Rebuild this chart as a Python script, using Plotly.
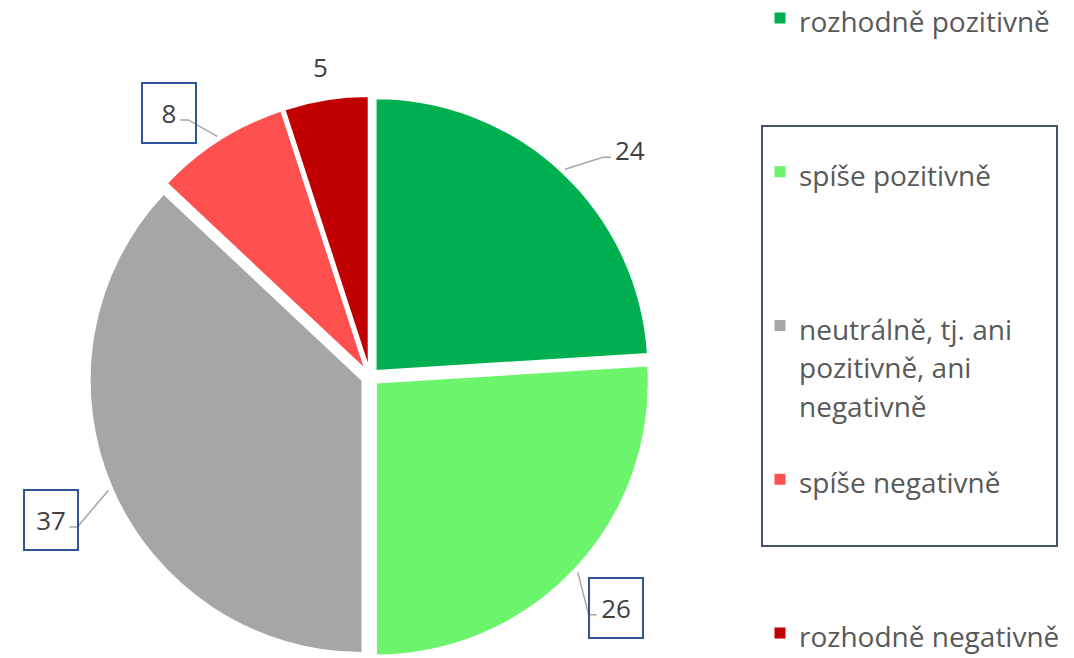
import numpy as np
import textwrap
import plotly.graph_objects as go

# ---- data ----
categories = ["rozhodně pozitivně", "spíše pozitivně",
              "neutrálně, tj. ani pozitivně, ani negativně",
              "spíše negativně", "rozhodně negativně"]
values = [24, 26, 37, 8, 5]
colors = ["#00B050", "#6CF56C", "#A6A6A6", "#FF5050", "#C00000"]

# ---- styling / layout ----
OFF = 8                      # default page body margin of the browser
W, H = 1074 - OFF, 658 - OFF
PULL = 0.03
boxed = [False, True, True, True, False]
leader = [True, True, True, True, False]
label_angle_tweak = [5.7, 0.0, -0.7, -4.9, 0.0]      # degrees
label_dist = [345, 337, 350, 332, 314]                # px from centre
label_font = dict(family="Open Sans, sans-serif", size=26, color="#404040")
legend_font = dict(family="Open Sans, sans-serif", size=28, color="#595959")

# pie placement in page pixels
cx, cy, R_total = 370, 377, 281
r_pie = R_total / (1 + PULL)


def px2paper(x, y):
    return (x - OFF) / W, 1 - (y - OFF) / H


fig = go.Figure(go.Pie(
    labels=categories, values=values, sort=False, direction="clockwise",
    rotation=0, pull=[PULL] * len(values),
    marker=dict(colors=colors, line=dict(color="white", width=2)),
    textinfo="none", hoverinfo="label+value", showlegend=False,
    domain=dict(x=[(cx - OFF - R_total) / W, (cx - OFF + R_total) / W],
                y=[max(0, (H - (cy - OFF) - R_total) / H),
                   (H - (cy - OFF) + R_total) / H]),
))

annotations = []
shapes = []
total = sum(values)
cum = np.cumsum([0] + values[:-1])
for i, v in enumerate(values):
    mid = (cum[i] + v / 2) / total * 2 * np.pi
    dx, dy = np.sin(mid), -np.cos(mid)
    la = mid + np.deg2rad(label_angle_tweak[i])
    lx, ly = cx + np.sin(la) * label_dist[i], cy - np.cos(la) * label_dist[i]
    ax_, ay_ = px2paper(lx, ly)
    ann = dict(x=ax_, y=ay_, xref="paper", yref="paper", text=str(v),
               font=label_font, showarrow=False,
               xanchor="center", yanchor="middle")
    if boxed[i]:
        ann.update(bordercolor="#2F5597", borderwidth=2, borderpad=4,
                   width=44, height=50, bgcolor="rgba(255,255,255,0)")
    annotations.append(ann)
    if leader[i]:
        side = 1 if dx >= 0 else -1
        hw = 7.5 * len(str(v)) + 4
        ex, ey = cx + dx * (R_total + 4), cy + dy * (R_total + 4)
        endx, endy = lx - side * hw, ly + 7
        elbx = endx - side * 8
        p = [px2paper(ex, ey), px2paper(elbx, endy), px2paper(endx, endy)]
        path = "M {:.5f} {:.5f} L {:.5f} {:.5f} L {:.5f} {:.5f}".format(
            p[0][0], p[0][1], p[1][0], p[1][1], p[2][0], p[2][1])
        shapes.append(dict(type="path", xref="paper", yref="paper", path=path,
                           line=dict(color="#A6A6A6", width=1.5)))

# ---- manual legend ----
leg_x_marker, leg_x_text = 780, 797
leg_y0, leg_step, line_h = 21, 153.75, 38.5
for i, (cat, col) in enumerate(zip(categories, colors)):
    yy = leg_y0 + i * leg_step
    x0, y0 = px2paper(leg_x_marker - 5.5, yy - 8.5)
    x1, y1 = px2paper(leg_x_marker + 5.5, yy + 2.5)
    shapes.append(dict(type="rect", xref="paper", yref="paper",
                       x0=x0, y0=y0, x1=x1, y1=y1,
                       fillcolor=col, line=dict(width=0)))
    for j, line in enumerate(textwrap.wrap(cat, 18)):
        tx, ty = px2paper(leg_x_text, yy + j * line_h)
        annotations.append(dict(x=tx, y=ty, xref="paper", yref="paper",
                                text=line, showarrow=False, xanchor="left",
                                yanchor="middle", font=legend_font))

# legend frame around the middle entries
bx0, by0 = px2paper(762, 126)
bx1, by1 = px2paper(1057, 546)
shapes.append(dict(type="rect", xref="paper", yref="paper",
                   x0=bx0, y0=by1, x1=bx1, y1=by0,
                   line=dict(color="#44546A", width=2)))

fig.update_layout(width=W, height=H, margin=dict(l=0, r=0, t=0, b=0),
                  paper_bgcolor="white", plot_bgcolor="white",
                  annotations=annotations, shapes=shapes)
fig.write_html("out.html")
